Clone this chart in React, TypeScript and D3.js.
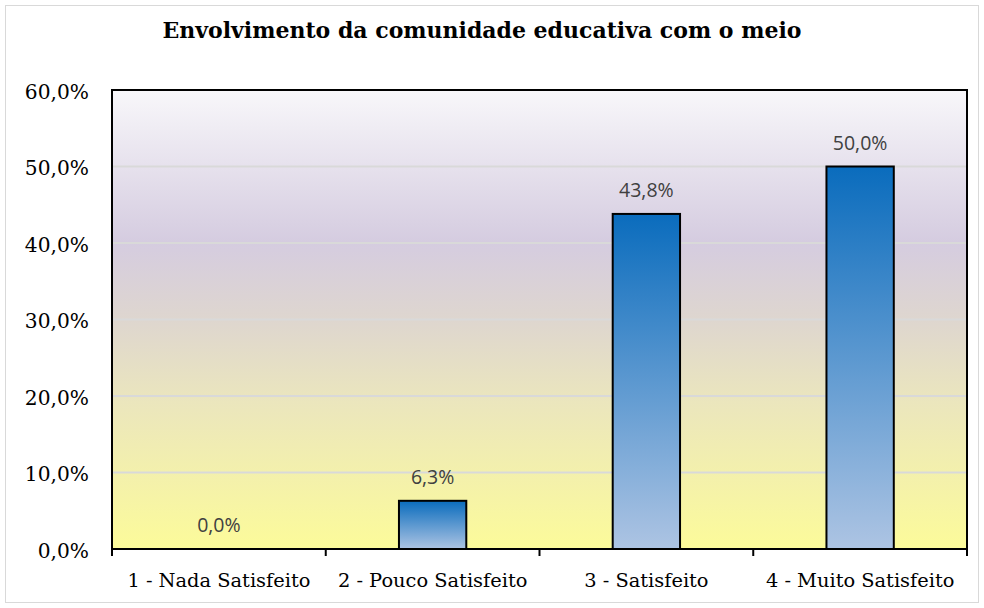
import React, { useEffect, useRef } from "react";
import * as d3 from "d3";

const title = "Envolvimento da comunidade educativa com o meio";
const categories = [
  "1 - Nada Satisfeito",
  "2 - Pouco Satisfeito",
  "3 - Satisfeito",
  "4 - Muito Satisfeito",
];
const values = [0.0, 0.063, 0.438, 0.5];
const yTicks = [0, 0.1, 0.2, 0.3, 0.4, 0.5, 0.6];

const width = 984;
const height = 608;

export default function App() {
  const chartRef = useRef<SVGSVGElement>(null);

  useEffect(() => {
    const svg = d3.select(chartRef.current);
    const margin = { top: 90, right: 17, bottom: 59, left: 112 };
    const fmt = (v: number) => d3.format(".1%")(v).replace(".", ",");

    const defs = svg.append("defs");
    const bg = defs
      .append("linearGradient")
      .attr("id", "plotBg")
      .attr("x1", 0)
      .attr("y1", 0)
      .attr("x2", 0)
      .attr("y2", 1);
    [
      [0, "#f8f7fa"],
      [0.33, "#d5cce0"],
      [0.5, "#ded6cf"],
      [0.68, "#ebe6bd"],
      [1, "#fcfb9a"],
    ].forEach(([o, c]) => bg.append("stop").attr("offset", o).attr("stop-color", c));

    const barGrad = defs
      .append("linearGradient")
      .attr("id", "barFill")
      .attr("x1", 0)
      .attr("y1", 0)
      .attr("x2", 0)
      .attr("y2", 1);
    barGrad.append("stop").attr("offset", 0).attr("stop-color", "#0a6cbd");
    barGrad.append("stop").attr("offset", 1).attr("stop-color", "#adc4e3");

    // outer chart border
    svg
      .append("rect")
      .attr("x", 5.5)
      .attr("y", 5.5)
      .attr("width", width - 11)
      .attr("height", height - 11)
      .attr("fill", "#fff")
      .attr("stroke", "#d9d9d9");

    const x = d3
      .scaleBand()
      .domain(categories)
      .range([margin.left, width - margin.right])
      .padding(0);

    const y = d3
      .scaleLinear()
      .domain([0, 0.6])
      .range([height - margin.bottom, margin.top]);

    const plotW = width - margin.right - margin.left;
    const plotH = height - margin.bottom - margin.top;

    svg
      .append("rect")
      .attr("x", margin.left)
      .attr("y", margin.top)
      .attr("width", plotW)
      .attr("height", plotH)
      .attr("fill", "url(#plotBg)");

    // gridlines
    svg
      .append("g")
      .selectAll("line")
      .data(yTicks.slice(1, -1))
      .join("line")
      .attr("x1", margin.left)
      .attr("x2", width - margin.right)
      .attr("y1", (d) => y(d))
      .attr("y2", (d) => y(d))
      .attr("stroke", "#d9d9d9")
      .attr("stroke-width", 2);

    // plot border
    svg
      .append("rect")
      .attr("x", margin.left)
      .attr("y", margin.top)
      .attr("width", plotW)
      .attr("height", plotH)
      .attr("fill", "none")
      .attr("stroke", "#000")
      .attr("stroke-width", 2);

    const barW = x.bandwidth() * 0.315;

    svg
      .append("g")
      .selectAll("rect")
      .data(values.map((v, i) => ({ v, c: categories[i] })).filter((d) => d.v > 0))
      .join("rect")
      .attr("x", (d) => x(d.c)! + x.bandwidth() / 2 - barW / 2)
      .attr("y", (d) => y(d.v))
      .attr("width", barW)
      .attr("height", (d) => y(0) - y(d.v))
      .attr("fill", "url(#barFill)")
      .attr("stroke", "#000")
      .attr("stroke-width", 2);

    // value labels
    svg
      .append("g")
      .selectAll("text")
      .data(values)
      .join("text")
      .attr("x", (d, i) => x(categories[i])! + x.bandwidth() / 2)
      .attr("y", (d) => y(d) - 17)
      .attr("text-anchor", "middle")
      .attr("font-family", "'Open Sans', sans-serif")
      .attr("font-size", 19.5)
      .attr("fill", "#404040")
      .text((d) => fmt(d));

    // x axis
    const xAxis = svg
      .append("g")
      .attr("transform", `translate(0,${height - margin.bottom})`)
      .call(d3.axisBottom(x).tickSize(0).tickPadding(24));
    xAxis.select(".domain").remove();
    xAxis
      .selectAll(".tick text")
      .attr("font-family", "'DejaVu Serif', serif")
      .attr("font-size", 19.4)
      .attr("fill", "#000");
    xAxis
      .selectAll("line.sep")
      .data(categories)
      .join("line")
      .attr("class", "sep")
      .attr("x1", (d) => x(d)! + x.bandwidth())
      .attr("x2", (d) => x(d)! + x.bandwidth())
      .attr("y1", 0)
      .attr("y2", 7)
      .attr("stroke", "#000")
      .attr("stroke-width", 2);
    xAxis
      .append("line")
      .attr("x1", margin.left)
      .attr("x2", margin.left)
      .attr("y1", 0)
      .attr("y2", 7)
      .attr("stroke", "#000")
      .attr("stroke-width", 2);

    // y axis
    const yAxis = svg
      .append("g")
      .attr("transform", `translate(${margin.left},0)`)
      .call(d3.axisLeft(y).tickValues(yTicks).tickSize(0).tickPadding(23).tickFormat((d) => fmt(d as number)));
    yAxis.select(".domain").remove();
    yAxis
      .selectAll(".tick text")
      .attr("font-family", "'DejaVu Serif', serif")
      .attr("font-size", 20.2)
      .attr("dy", "0.4em")
      .attr("fill", "#000");

    svg
      .append("text")
      .attr("x", 482)
      .attr("y", 38)
      .attr("text-anchor", "middle")
      .attr("font-family", "'DejaVu Serif', serif")
      .attr("font-weight", "bold")
      .attr("font-size", 22)
      .attr("fill", "#000")
      .text(title);

    return () => {
      svg.html("");
    };
  }, []);

  return (
    <svg
      ref={chartRef}
      width={width}
      height={height}
      style={{ position: "absolute", left: 0, top: 0, display: "block" }}
    />
  );
}
